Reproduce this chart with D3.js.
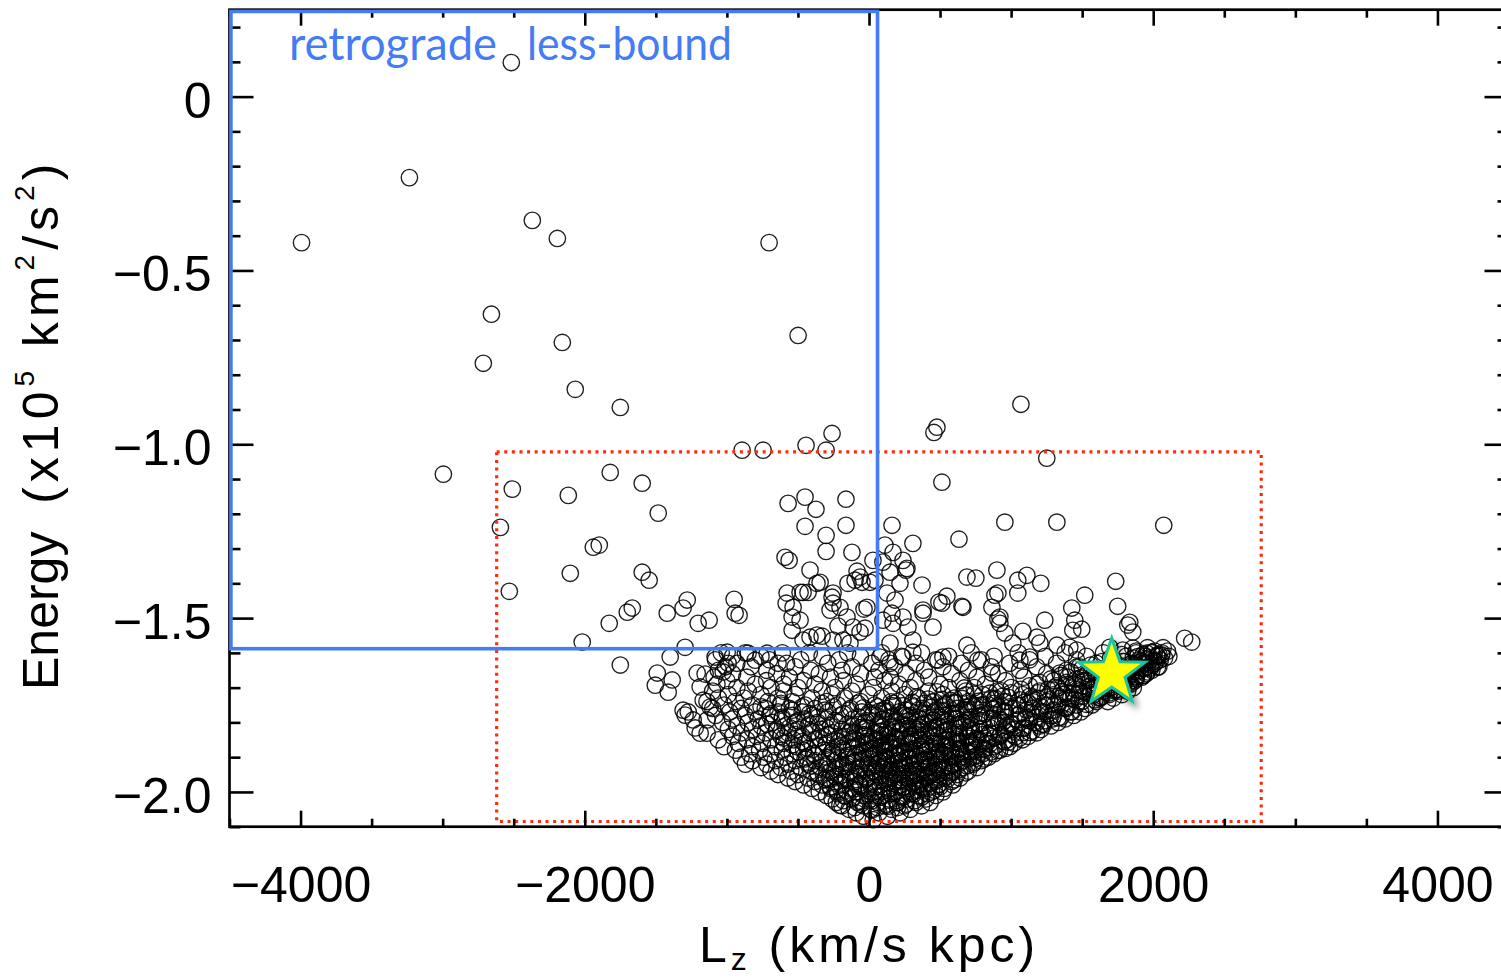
<!DOCTYPE html>
<html><head><meta charset="utf-8">
<script src="https://cdn.jsdelivr.net/npm/d3@7"></script>
<style>html,body{margin:0;padding:0;background:#fff;overflow:hidden} text{white-space:pre}</style>
</head><body>
<svg id="chart" width="1501" height="978" xmlns="http://www.w3.org/2000/svg"></svg>
<script>
// ---------------- DATA ----------------
const xTickValues = [-4000, -2000, 0, 2000, 4000];
const yTickValues = [0, -0.5, -1.0, -1.5, -2.0];
const xDomain = [-4500, 4500];
const yDomain = [-2.1, 0.25];

// selection boxes [lzMin, lzMax, eMax, eMin]
const retrogradeBox = [-4490, 60, 0.245, -1.588];
const redBox = [-2620, 2760, -1.022, -2.085];
const sunStar = [1708, -1.658];
const boxLabels = ["retrograde", "less-bound"];

// isolated / sparse stars [Lz, E]
const haloSparse = [
 [-2517,0.098],[-3234,-0.233],[-3993,-0.420],[-2369,-0.356],[-2193,-0.408],[-703,-0.420],
 [-2657,-0.626],[-2158,-0.707],[-2714,-0.767],[-499,-0.687],[-2067,-0.842],[-1750,-0.894],
 [1069,-0.885],[478,-0.951],[457,-0.966],[-893,-1.017],[-745,-1.017],[-443,-1.003],
 [-302,-1.017],[-260,-0.969],[1251,-1.040],[-2995,-1.086],[-1821,-1.081],[-2510,-1.129],
 [-1596,-1.112],[513,-1.109],[-2116,-1.147],[-1483,-1.198],[-2594,-1.239],[-1940,-1.296],
 [-1898,-1.290],[-2102,-1.371],[-1596,-1.368],[-1547,-1.391],[-2531,-1.423],[-1666,-1.471],
 [-1701,-1.483],[-1828,-1.515],[-1420,-1.486],[-1279,-1.448],[-1308,-1.471],[-1202,-1.515],
 [-1125,-1.506],[-949,-1.446],[-942,-1.486],[-914,-1.492],[-2018,-1.569],[-1750,-1.635],
 [-1294,-1.584]
];
const transitionSparse = [
 [-569,-1.170],[-450,-1.152],[-373,-1.187],[-162,-1.158],[-450,-1.236],[-162,-1.233],
 [-302,-1.262],[-302,-1.308],[-591,-1.325],[-562,-1.334],[-120,-1.311],[-415,-1.362],
 [-344,-1.397],[-84,-1.365],[-485,-1.426],[-464,-1.426],[-429,-1.426],[-260,-1.440],
 [-253,-1.457],[-148,-1.400],[-49,-1.397],[7,-1.397],[-583,-1.457],[-541,-1.497],
 [-485,-1.506],[-35,-1.474],[-218,-1.523],[-541,-1.535],[-415,-1.555],[-330,-1.552],
 [-183,-1.563],[-63,-1.540],[28,-1.334],
 [-576,-1.428],[-534,-1.469],[-366,-1.400],[-253,-1.428],[-274,-1.477],[-204,-1.469],
 [-155,-1.497],[-98,-1.391],[-63,-1.382],[-14,-1.469],[-112,-1.526],[-28,-1.529],
 [-134,-1.572],[-464,-1.563],[-366,-1.549],[-253,-1.563]
];
const progradeSparse = [
 [162,-1.233],[956,-1.224],[1322,-1.224],[2074,-1.233],[633,-1.273],[309,-1.285],
 [112,-1.290],[169,-1.311],[239,-1.334],[260,-1.362],[148,-1.368],[98,-1.339],
 [42,-1.391],[373,-1.405],[689,-1.382],[752,-1.385],[907,-1.428],[886,-1.434],
 [1047,-1.391],[1111,-1.377],[1047,-1.428],[1209,-1.400],[1518,-1.434],[1736,-1.394],
 [1427,-1.471],[1448,-1.506],[1497,-1.532],[1434,-1.535],[1750,-1.466],[1835,-1.512],
 [1821,-1.520],[1856,-1.540],[2221,-1.558],[2271,-1.569],[1237,-1.506],[921,-1.497],
 [907,-1.503],[1083,-1.538],[1181,-1.555],[1202,-1.572],[956,-1.543],[1012,-1.572],
 [654,-1.466],[492,-1.454],[548,-1.437],[513,-1.457],[380,-1.477],[380,-1.486],
 [183,-1.448],[127,-1.428],[162,-1.486],[239,-1.497],[274,-1.526],[98,-1.506],
 [689,-1.578],[520,-1.612],[485,-1.621],[309,-1.598],[239,-1.612],[77,-1.612],
 [148,-1.630],[766,-1.621],[865,-1.658],[1322,-1.578],[1413,-1.584],[1462,-1.592],
 [1062,-1.621],[1132,-1.612],[1343,-1.658],[1462,-1.641],[1694,-1.584],[1786,-1.592],
 [1856,-1.586],[1954,-1.601],[2025,-1.607],
 [267,-1.357],[218,-1.400],[900,-1.362],[169,-1.515],[661,-1.469],[865,-1.469],
 [921,-1.515],[450,-1.526],[309,-1.563],[148,-1.572]
];
const leftLobe = [
 [-1504,-1.693],[-1490,-1.658],[-1413,-1.713],[-1385,-1.678],[-1308,-1.765],[-1294,-1.779],
 [-1272,-1.770],[-1237,-1.793],[-1188,-1.831],[-1209,-1.658],[-1188,-1.698],[-1223,-1.816],
 [-1399,-1.612],[-1167,-1.736],[-1139,-1.793],[-1118,-1.756],[-1139,-1.831],[-1083,-1.612],
 [-998,-1.598],[-851,-1.601],[-717,-1.601],[-801,-1.621],[-640,-1.630],[-991,-1.630],
 [-1026,-1.655],[-1153,-1.661]
];
// dense cloud, estimated per energy level: [E, [Lz...]]
const cloudRows = [
 [-1.60,[-1040,-870,-610,-420,-150,90,370,720,1050,1380,1650,1880,1990,2060]],
 [-1.61,[-960,-760,-330,-60,230,560,880,1240,1530,1810,1940,2030,2110]],
 [-1.62,[-1080,-700,-480,-210,140,470,790,1130,1460,1720,1900,1980,2050]],
 [-1.63,[-930,-580,-290,20,330,650,990,1320,1600,1850,1930,2010]],
 [-1.64,[-1010,-830,-520,-120,180,520,860,1180,1480,1760,1890,1960,2040]],
 [-1.65,[-1060,-720,-410,-190,70,390,700,1060,1390,1670,1820,1910,1990]],
 [-1.66,[-960,-650,-350,-60,260,580,910,1250,1540,1740,1850,1950]],
 [-1.67,[-1090,-860,-560,-270,40,150,420,760,1090,1400,1620,1780,1880,1920]],
 [-1.68,[-1000,-720,-460,-180,110,330,640,960,1300,1510,1700,1800,1870]],
 [-1.69,[-1070,-800,-600,-380,-90,210,500,820,1180,1440,1640,1760,1840]],
 [-1.70,[-930,-690,-500,-240,30,290,560,740,1000,1330,1580,1700,1790,1860]],
 [-1.71,[-1100,-850,-600,-330,-120,160,420,680,900,1200,1480,1650,1750,1820]],
 [-1.72,[-990,-760,-520,-260,0,250,520,800,1080,1370,1560,1690,1780]],
 [-1.73,[-1060,-880,-640,-400,-170,90,350,600,860,1150,1420,1620,1720]],
 [-1.74,[-1140,-940,-710,-540,-300,-60,200,460,700,960,1250,1500,1600,1680]],
 [-1.75,[-1020,-820,-620,-450,-220,40,300,540,790,1040,1330,1460,1570]],
 [-1.76,[-1100,-900,-730,-560,-380,-130,120,380,620,880,1150,1390,1520]],
 [-1.77,[-980,-800,-640,-470,-290,-50,210,460,700,960,1230,1420,1490]],
 [-1.78,[-1080,-870,-700,-540,-400,-200,20,290,540,780,1050,1300,1440]],
 [-1.79,[-960,-780,-610,-450,-300,-110,100,360,610,850,1100,1290,1380]],
 [-1.80,[-1030,-850,-680,-520,-360,-220,-30,190,420,660,910,1160,1330]],
 [-1.81,[-930,-760,-590,-430,-270,-120,60,270,490,720,970,1200,1280]],
 [-1.82,[-990,-820,-650,-500,-340,-190,-40,130,340,560,780,1020,1210]],
 [-1.83,[-900,-730,-570,-410,-260,-100,40,210,420,630,850,1080,1180]],
 [-1.84,[-960,-790,-620,-470,-320,-170,-30,110,290,490,700,920,1120]],
 [-1.85,[-1060,-860,-690,-530,-380,-240,-90,60,190,360,560,760,970,1080]],
 [-1.86,[-920,-750,-600,-450,-300,-150,0,140,280,450,630,830,1020]],
 [-1.87,[-1020,-820,-660,-510,-360,-220,-70,80,220,370,530,700,880,990]],
 [-1.88,[-940,-770,-610,-460,-320,-180,-30,110,260,410,580,750,920]],
 [-1.89,[-840,-690,-540,-390,-250,-110,40,180,330,480,640,800,880]],
 [-1.90,[-900,-740,-590,-440,-300,-160,-20,120,270,420,570,730,840]],
 [-1.91,[-820,-660,-520,-380,-240,-90,60,210,360,500,660,790]],
 [-1.92,[-870,-720,-570,-430,-290,-150,-10,140,290,440,590,730]],
 [-1.93,[-760,-620,-480,-340,-200,-60,90,230,370,520,660,760]],
 [-1.94,[-690,-550,-410,-270,-130,20,160,310,450,590,700]],
 [-1.95,[-640,-500,-360,-220,-80,60,200,340,480,620]],
 [-1.96,[-570,-430,-300,-160,-20,120,260,400,530,640]],
 [-1.97,[-520,-380,-240,-100,40,180,320,460,580]],
 [-1.98,[-460,-330,-190,-60,80,220,360,490,590]],
 [-1.99,[-400,-270,-130,0,140,280,410,530]],
 [-2.00,[-350,-220,-90,40,180,310,440,520]],
 [-2.01,[-300,-170,-40,90,230,360,470]],
 [-2.02,[-260,-120,10,140,270,400]],
 [-2.03,[-230,-80,60,200,330,430]],
 [-2.04,[-190,-40,110,250,370]],
 [-2.05,[-140,10,160,290]],
 [-2.06,[-90,70,220]],
 [-2.07,[-40,130]],
 [-2.08,[30]]
];
const coreRows = [
 [-1.745,[-620,-330,-80,170,390,610,880,1120]],
 [-1.755,[-760,-470,-250,60,310,520,740,990,1210,1400]],
 [-1.765,[-540,-310,-140,100,260,470,690,930,1110,1300]],
 [-1.775,[-690,-420,-180,30,230,410,590,820,1060,1260]],
 [-1.785,[-610,-360,-70,150,330,500,720,960,1180,1350]],
 [-1.795,[-500,-240,-20,190,280,450,650,880,1130,1240]],
 [-1.805,[-720,-420,-150,70,240,380,560,770,1000,1220]],
 [-1.815,[-560,-300,-60,160,310,470,640,850,1090]],
 [-1.825,[-650,-400,-130,80,220,360,530,720,960,1150]],
 [-1.835,[-520,-280,-40,130,290,430,600,800,1010]],
 [-1.845,[-600,-350,-110,60,200,350,510,690,880,1060]],
 [-1.855,[-470,-210,-20,150,310,460,620,790,950]],
 [-1.865,[-540,-300,-80,90,230,390,540,720,900]],
 [-1.875,[-430,-190,20,170,320,480,640,810,960]],
 [-1.885,[-500,-260,-60,110,250,390,530,690,860]],
 [-1.895,[-380,-150,30,200,340,470,610,760]],
 [-1.905,[-450,-220,-40,130,280,400,550,700,810]],
 [-1.915,[-330,-110,70,230,360,490,620,740]],
 [-1.925,[-410,-180,0,160,310,430,570,690]],
 [-1.935,[-290,-70,100,250,390,520,640]],
 [-1.945,[-360,-140,40,190,330,460,580,680]],
 [-1.955,[-240,-30,140,280,420,550]],
 [-1.965,[-310,-100,80,220,360,490,600]],
 [-1.975,[-200,10,170,310,440]],
 [-1.985,[-270,-60,110,250,380,500]],
 [-1.995,[-160,50,200,340,460]],
 [-2.005,[-220,-10,150,290,410]],
 [-2.015,[-110,80,240,370]],
 [-2.025,[-180,20,190,320]],
 [-2.035,[-60,120,260]],
 [-2.045,[-100,60,200]]
];
const armRows = [
 [-1.585,[1960,2070]],
 [-1.595,[1880,2010,2100]],
 [-1.605,[1780,1930,2040]],
 [-1.615,[1700,1860,1970,2080]],
 [-1.625,[1640,1790,1920,2020]],
 [-1.635,[1560,1720,1880,1990]],
 [-1.645,[1500,1650,1810,1940]],
 [-1.655,[1420,1590,1760,1890,1960]],
 [-1.665,[1350,1520,1700,1840,1930]],
 [-1.675,[1280,1460,1640,1790,1880]],
 [-1.685,[1200,1390,1580,1730,1830]],
 [-1.695,[1130,1320,1510,1680,1780]],
 [-1.705,[1070,1260,1450,1620,1740]],
 [-1.715,[1000,1190,1390,1560,1690]],
 [-1.725,[940,1130,1330,1500,1640]],
 [-1.735,[880,1060,1270,1450,1590]]
];
// extra estimated stars in the darkest part of the clump [Lz, E]
const coreExtra = [
 [-280,-1.962],[-215,-1.918],[-170,-2.012],[-125,-1.873],[-95,-1.948],[-60,-2.027],[-30,-1.836],[5,-1.902],
 [35,-1.987],[60,-1.781],[85,-1.859],[110,-1.934],[135,-2.041],[160,-1.812],[185,-1.893],[210,-1.968],
 [240,-1.752],[265,-1.846],[290,-1.921],[315,-2.006],[340,-1.797],[365,-1.877],[390,-1.955],[415,-1.733],
 [440,-1.824],[465,-1.902],[490,-1.978],[520,-1.768],[545,-1.851],[570,-1.929],[600,-1.742],[625,-1.808],
 [650,-1.884],[680,-1.721],[705,-1.792],[735,-1.862],[760,-1.903],
 [-260,-1.884],[-230,-1.994],[-190,-1.841],[-150,-1.927],[-110,-1.991],[-75,-1.806],[-45,-1.889],[-15,-1.962],
 [20,-2.052],[45,-1.853],[75,-1.916],[100,-1.998],[125,-1.768],[150,-1.871],[175,-1.952],[200,-2.031],
 [225,-1.806],[250,-1.887],[280,-1.961],[305,-1.742],[330,-1.836],[355,-1.912],[380,-1.991],[405,-1.786],
 [430,-1.869],[455,-1.944],[480,-1.712],[505,-1.818],[530,-1.893],[555,-1.962],[585,-1.776],[610,-1.848],
 [640,-1.917],[665,-1.763],[690,-1.836],[720,-1.884],[750,-1.751],[780,-1.827],[810,-1.878],
 [-240,-1.935],[-205,-2.038],[-160,-1.962],[-135,-1.829],[-100,-1.899],[-70,-1.976],[-40,-1.758],[-10,-1.854],
 [15,-1.931],[50,-2.012],[80,-1.828],[105,-1.898],[130,-1.973],[155,-1.741],[180,-1.842],[205,-1.917],
 [235,-1.988],[255,-1.779],[285,-1.859],[310,-1.938],[335,-1.727],[360,-1.814],[385,-1.895],[410,-1.958],
 [435,-1.757],[460,-1.842],[485,-1.921],[515,-1.734],[540,-1.797],[565,-1.873],[590,-1.943],[620,-1.789],
 [645,-1.861],[670,-1.701],[700,-1.815],[725,-1.748],[755,-1.846],[790,-1.772],[830,-1.853]
];
const coreExtra2 = [
 [-20,-1.815],[10,-1.877],[40,-1.941],[70,-1.768],[95,-1.836],[120,-1.905],[145,-1.962],[170,-1.782],
 [195,-1.851],[220,-1.928],[245,-1.985],[275,-1.818],[300,-1.879],[325,-1.953],[350,-1.764],[375,-1.838],
 [400,-1.908],[425,-1.972],[450,-1.793],[475,-1.861],[500,-1.936],[530,-1.747],[555,-1.822],[580,-1.889],
 [610,-1.773],[635,-1.835],[660,-1.898],[690,-1.756],[715,-1.821],[745,-1.879],[775,-1.739],[800,-1.801],
 [840,-1.836],[870,-1.788],[905,-1.752],[940,-1.801],[980,-1.728],
 [0,-1.772],[30,-1.846],[55,-1.921],[90,-1.792],[115,-1.866],[140,-1.937],[165,-1.752],[190,-1.818],
 [215,-1.889],[240,-1.948],[270,-1.783],[295,-1.848],[320,-1.906],[345,-1.978],[370,-1.805],[395,-1.861],
 [420,-1.929],[445,-1.741],[470,-1.817],[495,-1.883],[525,-1.793],[550,-1.869],[575,-1.737],[605,-1.812],
 [630,-1.878],[655,-1.731],[685,-1.795],[710,-1.857],[740,-1.719],[770,-1.783],[805,-1.749],[850,-1.716],
 [890,-1.731],[930,-1.709]
];
const armExtra = [
 [850,-1.862],[880,-1.812],[905,-1.881],[930,-1.835],[955,-1.768],[980,-1.857],[1005,-1.803],[1030,-1.842],
 [1055,-1.752],[1080,-1.818],[1105,-1.786],[1130,-1.829],[1155,-1.741],[1180,-1.801],[1205,-1.768],[1230,-1.806],
 [1255,-1.727],[1280,-1.781],[1305,-1.749],[1330,-1.787],[1355,-1.712],[1380,-1.758],[1405,-1.731],[1430,-1.769],
 [1455,-1.693],[1480,-1.738],[1505,-1.712],[1530,-1.748],[1555,-1.679],[1580,-1.721],[1605,-1.693],[1630,-1.729],
 [1655,-1.662],[1680,-1.703],[1705,-1.676],[1730,-1.709],[1755,-1.648],[1780,-1.688],[1805,-1.661],[1830,-1.689],
 [1855,-1.634],[1880,-1.667],[1905,-1.642],[1930,-1.665],[1955,-1.618],[1980,-1.644],[2005,-1.623],[2030,-1.641],
 [2060,-1.606],
 [870,-1.763],[915,-1.792],[960,-1.821],[1010,-1.761],[1045,-1.793],[1095,-1.742],[1140,-1.773],[1190,-1.731],
 [1240,-1.752],[1290,-1.707],[1340,-1.731],[1390,-1.691],[1440,-1.716],[1490,-1.672],[1540,-1.698],[1590,-1.655],
 [1640,-1.681],[1690,-1.642],[1740,-1.662],[1790,-1.625],[1840,-1.648],[1890,-1.611],[1940,-1.631],[1990,-1.598]
];

// ---------------- DRAW ----------------
const expandRows = rows => rows.flatMap(([e, lzs]) => lzs.map(lz => [lz, e]));
const points = [].concat(haloSparse, transitionSparse, progradeSparse, leftLobe,
  expandRows(cloudRows), expandRows(coreRows), expandRows(armRows), coreExtra, coreExtra2, armExtra);

const svg = d3.select("#chart");
const x = d3.scaleLinear().domain(xDomain).range([229.5, 1508.5]);
const y = d3.scaleLinear().domain(yDomain).range([826.7, 9.7]);
const tickFont = "'Liberation Sans', Arial, sans-serif";

const defs = svg.append("defs");
const f = defs.append("filter").attr("id","shadow").attr("x","-50%").attr("y","-50%").attr("width","200%").attr("height","200%");
f.append("feDropShadow").attr("dx",4).attr("dy",5).attr("stdDeviation",3)
  .attr("flood-color","#000").attr("flood-opacity",0.45);

// scatter
svg.append("g").selectAll("circle").data(points).join("circle")
  .attr("cx", d => x(d[0])).attr("cy", d => y(d[1])).attr("r", 8.2)
  .attr("fill","none").attr("stroke","#000").attr("stroke-opacity",0.88).attr("stroke-width",1.35);

// red dotted box
svg.append("rect")
  .attr("x", x(redBox[0])).attr("y", y(redBox[2]))
  .attr("width", x(redBox[1]) - x(redBox[0])).attr("height", y(redBox[3]) - y(redBox[2]))
  .attr("fill","none").attr("stroke","#ff2a0a").attr("stroke-width",3.2).attr("stroke-dasharray","3,4.6");

// axes
const minorX = d3.range(-4500, 4501, 500).filter(v => !xTickValues.includes(v));
const minorY = d3.range(-21, 3).map(v => v / 10).filter(v => !yTickValues.some(t => Math.abs(t - v) < 1e-9));
const yFmt = d => d === 0 ? "0" : d3.format(".1f")(d);

function styleAxis(g){
  g.select(".domain").remove();
  g.selectAll(".tick line").attr("stroke","#000").attr("stroke-width",2.6);
  g.selectAll(".tick text").attr("font-family", tickFont).attr("font-size", 50).attr("fill","#000");
}
const x0 = x(xDomain[0]), x1 = x(xDomain[1]), y0 = y(yDomain[0]), y1 = y(yDomain[1]);

svg.append("g").attr("transform",`translate(0,${y0})`)
  .call(d3.axisBottom(x).tickValues(xTickValues).tickSize(-16).tickPadding(40).tickFormat(d3.format("d")))
  .call(styleAxis);
svg.append("g").attr("transform",`translate(0,${y0})`)
  .call(d3.axisBottom(x).tickValues(minorX).tickSize(-8).tickFormat("")).call(styleAxis);
svg.append("g").attr("transform",`translate(0,${y1})`)
  .call(d3.axisTop(x).tickValues(xTickValues).tickSize(-16).tickFormat("")).call(styleAxis);
svg.append("g").attr("transform",`translate(0,${y1})`)
  .call(d3.axisTop(x).tickValues(minorX).tickSize(-8).tickFormat("")).call(styleAxis);
const gl = svg.append("g").attr("transform",`translate(${x0},0)`)
  .call(d3.axisLeft(y).tickValues(yTickValues).tickSize(-24).tickPadding(18).tickFormat(yFmt))
  .call(styleAxis);
gl.selectAll(".tick text").attr("dy","0.41em");
svg.append("g").attr("transform",`translate(${x0},0)`)
  .call(d3.axisLeft(y).tickValues(minorY).tickSize(-11).tickFormat("")).call(styleAxis);
svg.append("g").attr("transform",`translate(${x1},0)`)
  .call(d3.axisRight(y).tickValues(yTickValues).tickSize(-24).tickFormat("")).call(styleAxis);
svg.append("g").attr("transform",`translate(${x1},0)`)
  .call(d3.axisRight(y).tickValues(minorY).tickSize(-11).tickFormat("")).call(styleAxis);

svg.append("rect").attr("x", x0).attr("y", y1).attr("width", x1 - x0).attr("height", y0 - y1)
  .attr("fill","none").attr("stroke","#000").attr("stroke-width",2.7);

// blue retrograde box
svg.append("rect")
  .attr("x", x(retrogradeBox[0])).attr("y", y(retrogradeBox[2]))
  .attr("width", x(retrogradeBox[1]) - x(retrogradeBox[0]))
  .attr("height", y(retrogradeBox[3]) - y(retrogradeBox[2]))
  .attr("fill","none").attr("stroke","#447cf5").attr("stroke-width",3.6);

// sun star
const starPath = (cx, cy, R, r) => {
  const pts = [];
  for (let i = 0; i < 10; i++) {
    const a = -Math.PI/2 + i * Math.PI/5, rr = i % 2 ? r : R;
    pts.push([cx + rr*Math.cos(a), cy + rr*Math.sin(a)]);
  }
  return "M" + pts.map(p => p.join(",")).join("L") + "Z";
};
svg.append("path").attr("d", starPath(x(sunStar[0]), y(sunStar[1]), 35, 14))
  .attr("fill","#ffff00").attr("stroke","#1fc49c").attr("stroke-width",3)
  .attr("stroke-linejoin","miter").attr("filter","url(#shadow)");

// blue labels
svg.append("text").attr("x", 289).attr("y", 60).text(boxLabels[0])
  .attr("font-family","Lato, 'Open Sans', sans-serif").attr("font-size",46).attr("fill","#447cf5")
  .attr("textLength",208).attr("lengthAdjust","spacingAndGlyphs");
svg.append("text").attr("x", 527).attr("y", 60).text(boxLabels[1])
  .attr("font-family","Lato, 'Open Sans', sans-serif").attr("font-size",46).attr("fill","#447cf5")
  .attr("textLength",205).attr("lengthAdjust","spacingAndGlyphs");

// x title
const xt = svg.append("text").attr("x", 869).attr("y", 962).attr("text-anchor","middle")
  .attr("font-family", tickFont).attr("font-size", 50).attr("letter-spacing", 4).attr("fill","#000");
xt.append("tspan").text("L");
xt.append("tspan").attr("font-size",32).attr("dy",8).text("z");
xt.append("tspan").attr("dy",-8).text(" (km/s kpc)");

// y title
const yt = svg.append("text").attr("transform","translate(58,690) rotate(-90)")
  .attr("font-family", tickFont).attr("font-size", 50).attr("fill","#000");
yt.append("tspan").text("Energy  ");
const yp = yt.append("tspan").attr("letter-spacing", 5);
yp.append("tspan").text("(x10");
yp.append("tspan").attr("font-size",28).attr("dy",-24).text("5");
yp.append("tspan").attr("dy",24).text(" km");
yp.append("tspan").attr("font-size",28).attr("dy",-24).text("2");
yp.append("tspan").attr("dy",24).text("/s");
yp.append("tspan").attr("font-size",28).attr("dy",-24).text("2");
yp.append("tspan").attr("dy",24).text(")");
</script>
</body></html>
